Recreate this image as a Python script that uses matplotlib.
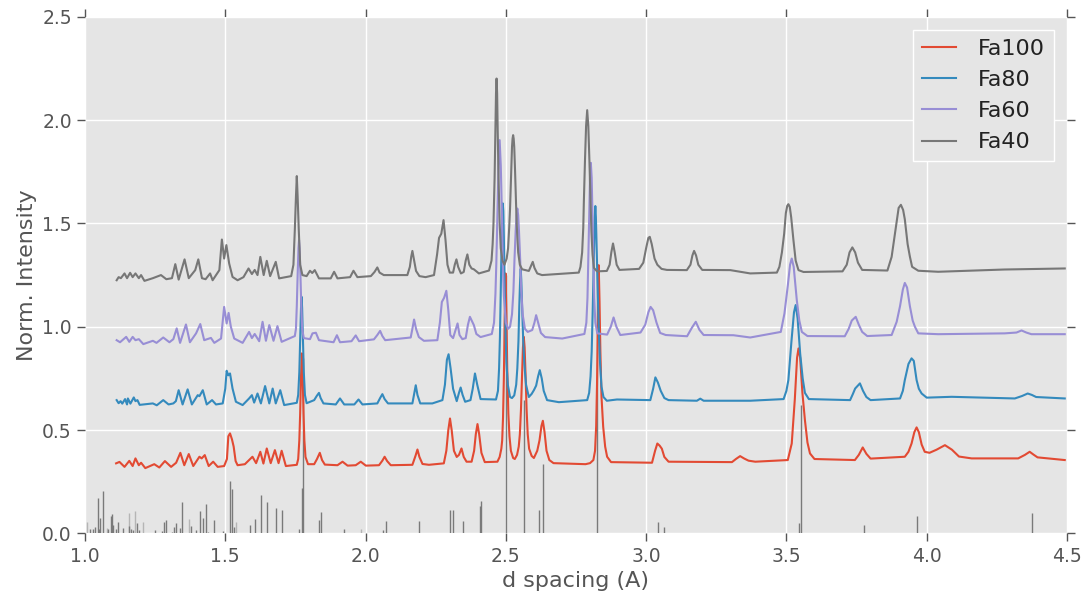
import matplotlib
matplotlib.use("Agg")
import matplotlib.pyplot as plt

# ---------------- data ----------------
series_names = ["Fa100", "Fa80", "Fa60", "Fa40"]
series_colors = ["#E24A33", "#348ABD", "#988ED5", "#777777"]

fa100_pts = [(1.111,0.339),(1.123,0.346),(1.141,0.322),(1.158,0.351),(1.170,0.326),(1.180,0.363),(1.192,0.330),(1.200,0.342),(1.215,0.316),(1.247,0.335),(1.265,0.319),(1.285,0.350),(1.307,0.322),(1.325,0.342),(1.340,0.390),(1.354,0.330),(1.370,0.384),(1.386,0.326),(1.408,0.371),(1.416,0.363),(1.427,0.379),(1.441,0.326),(1.457,0.347),(1.473,0.322),(1.496,0.326),(1.506,0.360),(1.511,0.470),(1.517,0.484),(1.524,0.455),(1.530,0.420),(1.537,0.350),(1.544,0.330),(1.570,0.335),(1.597,0.371),(1.610,0.340),(1.625,0.395),(1.636,0.338),(1.648,0.411),(1.662,0.340),(1.677,0.403),(1.690,0.340),(1.701,0.400),(1.716,0.326),(1.755,0.332),(1.760,0.360),(1.764,0.450),(1.767,0.580),(1.770,0.760),(1.773,0.871),(1.776,0.760),(1.779,0.580),(1.782,0.450),(1.786,0.370),(1.795,0.335),(1.817,0.335),(1.827,0.360),(1.837,0.390),(1.845,0.355),(1.855,0.333),(1.900,0.330),(1.918,0.347),(1.936,0.328),(1.965,0.330),(1.983,0.347),(2.001,0.328),(2.048,0.330),(2.060,0.352),(2.068,0.371),(2.077,0.350),(2.090,0.330),(2.167,0.332),(2.178,0.375),(2.185,0.406),(2.192,0.370),(2.203,0.336),(2.226,0.332),(2.279,0.339),(2.288,0.400),(2.295,0.500),(2.301,0.556),(2.307,0.500),(2.315,0.400),(2.325,0.370),(2.333,0.380),(2.342,0.411),(2.350,0.370),(2.360,0.347),(2.378,0.347),(2.387,0.400),(2.393,0.480),(2.399,0.529),(2.405,0.480),(2.413,0.390),(2.425,0.345),(2.470,0.347),(2.478,0.370),(2.484,0.410),(2.487,0.450),(2.490,0.560),(2.493,0.750),(2.496,1.050),(2.499,1.258),(2.502,1.070),(2.505,0.800),(2.509,0.580),(2.513,0.470),(2.518,0.400),(2.526,0.365),(2.532,0.360),(2.540,0.380),(2.546,0.420),(2.550,0.480),(2.554,0.600),(2.558,0.780),(2.561,0.900),(2.564,0.951),(2.567,0.900),(2.570,0.780),(2.574,0.600),(2.578,0.480),(2.583,0.410),(2.592,0.375),(2.600,0.365),(2.612,0.400),(2.620,0.450),(2.627,0.520),(2.632,0.545),(2.638,0.490),(2.645,0.400),(2.655,0.355),(2.670,0.340),(2.784,0.335),(2.800,0.340),(2.812,0.355),(2.818,0.400),(2.822,0.520),(2.825,0.720),(2.828,1.020),(2.831,1.298),(2.834,1.120),(2.837,0.880),(2.841,0.660),(2.847,0.516),(2.854,0.420),(2.861,0.371),(2.875,0.345),(3.021,0.342),(3.032,0.400),(3.040,0.435),(3.048,0.425),(3.056,0.410),(3.065,0.370),(3.080,0.347),(3.306,0.345),(3.320,0.360),(3.335,0.374),(3.350,0.362),(3.365,0.352),(3.389,0.347),(3.505,0.355),(3.519,0.435),(3.530,0.650),(3.538,0.850),(3.543,0.895),(3.549,0.850),(3.557,0.680),(3.566,0.548),(3.575,0.440),(3.584,0.387),(3.600,0.360),(3.744,0.355),(3.758,0.380),(3.772,0.416),(3.785,0.385),(3.800,0.362),(3.922,0.371),(3.935,0.395),(3.946,0.435),(3.956,0.490),(3.964,0.513),(3.972,0.490),(3.982,0.430),(3.993,0.395),(4.010,0.390),(4.035,0.405),(4.065,0.427),(4.090,0.405),(4.115,0.372),(4.160,0.363),(4.326,0.363),(4.350,0.380),(4.367,0.395),(4.380,0.382),(4.395,0.368),(4.492,0.355)]

fa80_pts = [(1.113,0.645),(1.120,0.630),(1.127,0.640),(1.133,0.628),(1.143,0.650),(1.150,0.624),(1.153,0.653),(1.162,0.628),(1.174,0.658),(1.180,0.640),(1.187,0.645),(1.195,0.622),(1.242,0.629),(1.256,0.620),(1.279,0.645),(1.298,0.624),(1.315,0.629),(1.324,0.640),(1.334,0.693),(1.348,0.624),(1.366,0.697),(1.381,0.624),(1.402,0.669),(1.408,0.664),(1.420,0.693),(1.434,0.624),(1.453,0.645),(1.467,0.624),(1.491,0.629),(1.500,0.700),(1.505,0.787),(1.511,0.765),(1.517,0.774),(1.526,0.701),(1.538,0.637),(1.562,0.621),(1.585,0.653),(1.595,0.669),(1.603,0.633),(1.615,0.677),(1.627,0.629),(1.642,0.713),(1.657,0.629),(1.669,0.701),(1.680,0.629),(1.696,0.693),(1.710,0.621),(1.755,0.632),(1.760,0.670),(1.764,0.780),(1.767,0.930),(1.770,1.090),(1.772,1.145),(1.774,1.090),(1.777,0.930),(1.780,0.780),(1.784,0.670),(1.790,0.630),(1.817,0.645),(1.826,0.665),(1.834,0.680),(1.840,0.655),(1.850,0.629),(1.894,0.624),(1.909,0.653),(1.924,0.624),(1.960,0.624),(1.975,0.648),(1.989,0.624),(2.042,0.629),(2.052,0.655),(2.060,0.674),(2.068,0.650),(2.080,0.629),(2.167,0.629),(2.174,0.680),(2.179,0.717),(2.185,0.670),(2.195,0.629),(2.238,0.629),(2.274,0.645),(2.283,0.720),(2.290,0.840),(2.296,0.867),(2.303,0.800),(2.312,0.700),(2.325,0.640),(2.333,0.680),(2.339,0.706),(2.346,0.670),(2.355,0.637),(2.374,0.645),(2.382,0.700),(2.390,0.774),(2.398,0.720),(2.410,0.650),(2.465,0.648),(2.472,0.690),(2.476,0.800),(2.479,0.950),(2.482,1.180),(2.485,1.430),(2.487,1.560),(2.489,1.597),(2.491,1.560),(2.493,1.430),(2.496,1.180),(2.499,0.970),(2.502,0.830),(2.507,0.720),(2.515,0.660),(2.522,0.655),(2.530,0.668),(2.537,0.720),(2.541,0.800),(2.545,0.930),(2.548,1.100),(2.551,1.230),(2.553,1.280),(2.555,1.230),(2.558,1.100),(2.562,0.930),(2.566,0.820),(2.572,0.720),(2.582,0.660),(2.592,0.675),(2.600,0.693),(2.608,0.715),(2.615,0.760),(2.621,0.790),(2.628,0.750),(2.635,0.690),(2.647,0.645),(2.689,0.635),(2.790,0.645),(2.797,0.680),(2.802,0.760),(2.806,0.880),(2.810,1.100),(2.814,1.360),(2.817,1.530),(2.819,1.584),(2.821,1.530),(2.824,1.360),(2.828,1.150),(2.832,0.960),(2.836,0.820),(2.841,0.710),(2.848,0.660),(2.860,0.642),(2.896,0.648),(3.015,0.645),(3.025,0.700),(3.033,0.755),(3.042,0.730),(3.052,0.690),(3.065,0.655),(3.080,0.645),(3.181,0.642),(3.193,0.652),(3.205,0.642),(3.371,0.642),(3.490,0.650),(3.500,0.690),(3.507,0.742),(3.518,0.930),(3.527,1.070),(3.533,1.105),(3.540,1.040),(3.549,0.871),(3.558,0.750),(3.566,0.680),(3.580,0.650),(3.727,0.645),(3.737,0.675),(3.745,0.701),(3.762,0.726),(3.773,0.690),(3.785,0.660),(3.800,0.645),(3.905,0.653),(3.915,0.690),(3.922,0.742),(3.935,0.820),(3.946,0.847),(3.954,0.835),(3.964,0.742),(3.972,0.700),(3.982,0.677),(4.000,0.657),(4.089,0.661),(4.314,0.653),(4.340,0.665),(4.360,0.677),(4.375,0.670),(4.390,0.660),(4.492,0.653)]

fa60_pts = [(1.113,0.935),(1.125,0.925),(1.147,0.951),(1.158,0.927),(1.170,0.951),(1.180,0.935),(1.192,0.940),(1.208,0.916),(1.242,0.932),(1.255,0.922),(1.279,0.948),(1.301,0.925),(1.315,0.940),(1.327,0.992),(1.339,0.922),(1.360,1.011),(1.374,0.925),(1.396,0.968),(1.411,1.013),(1.425,0.935),(1.449,0.946),(1.461,0.922),(1.485,0.943),(1.496,1.096),(1.505,1.016),(1.512,1.067),(1.520,1.000),(1.532,0.943),(1.562,0.922),(1.585,0.975),(1.595,0.945),(1.605,0.965),(1.621,0.930),(1.633,1.024),(1.645,0.932),(1.657,1.008),(1.672,0.932),(1.686,1.003),(1.701,0.927),(1.748,0.955),(1.752,0.990),(1.755,1.100),(1.758,1.250),(1.761,1.380),(1.763,1.419),(1.765,1.380),(1.768,1.250),(1.771,1.100),(1.774,0.990),(1.780,0.945),(1.802,0.940),(1.811,0.968),(1.823,0.971),(1.834,0.935),(1.886,0.925),(1.898,0.959),(1.909,0.925),(1.950,0.930),(1.965,0.958),(1.977,0.930),(2.030,0.939),(2.042,0.960),(2.052,0.980),(2.060,0.955),(2.070,0.935),(2.161,0.948),(2.167,0.990),(2.173,1.035),(2.180,0.990),(2.190,0.950),(2.208,0.932),(2.256,0.935),(2.265,1.020),(2.272,1.120),(2.280,1.140),(2.288,1.174),(2.295,1.080),(2.302,0.960),(2.312,0.945),(2.322,0.990),(2.328,1.016),(2.335,0.960),(2.345,0.940),(2.357,0.945),(2.365,1.010),(2.372,1.048),(2.380,1.025),(2.386,1.008),(2.395,0.965),(2.410,0.950),(2.450,0.965),(2.458,1.020),(2.463,1.160),(2.466,1.300),(2.470,1.550),(2.474,1.780),(2.478,1.903),(2.482,1.780),(2.486,1.550),(2.489,1.320),(2.493,1.150),(2.500,1.020),(2.508,0.990),(2.515,1.000),(2.522,1.060),(2.527,1.170),(2.531,1.330),(2.535,1.460),(2.538,1.540),(2.541,1.572),(2.544,1.540),(2.547,1.460),(2.551,1.330),(2.555,1.170),(2.560,1.060),(2.568,0.990),(2.578,0.975),(2.594,0.984),(2.602,1.020),(2.608,1.056),(2.615,1.020),(2.625,0.970),(2.640,0.950),(2.701,0.943),(2.780,0.965),(2.787,1.020),(2.791,1.140),(2.794,1.330),(2.797,1.530),(2.800,1.720),(2.803,1.793),(2.806,1.720),(2.809,1.530),(2.812,1.330),(2.815,1.140),(2.819,1.020),(2.826,0.968),(2.861,0.962),(2.874,1.000),(2.884,1.045),(2.894,1.000),(2.908,0.960),(2.980,0.972),(2.997,1.010),(3.008,1.070),(3.016,1.096),(3.025,1.080),(3.037,1.020),(3.050,0.970),(3.070,0.960),(3.146,0.954),(3.163,0.995),(3.177,1.024),(3.190,0.985),(3.205,0.960),(3.311,0.959),(3.371,0.948),(3.480,0.975),(3.493,1.064),(3.505,1.200),(3.513,1.300),(3.519,1.330),(3.526,1.290),(3.537,1.129),(3.546,1.030),(3.555,0.975),(3.575,0.955),(3.708,0.954),(3.722,0.990),(3.733,1.030),(3.747,1.048),(3.758,1.010),(3.770,0.975),(3.788,0.955),(3.875,0.960),(3.893,1.024),(3.905,1.100),(3.915,1.180),(3.922,1.212),(3.930,1.190),(3.940,1.100),(3.950,1.030),(3.958,1.000),(3.970,0.968),(4.041,0.964),(4.278,0.968),(4.320,0.972),(4.338,0.982),(4.355,0.972),(4.373,0.964),(4.492,0.964)]

fa40_pts = [(1.113,1.225),(1.120,1.240),(1.128,1.235),(1.141,1.258),(1.150,1.235),(1.161,1.261),(1.170,1.240),(1.180,1.258),(1.192,1.235),(1.200,1.250),(1.212,1.222),(1.242,1.235),(1.271,1.250),(1.290,1.230),(1.310,1.235),(1.322,1.303),(1.334,1.228),(1.355,1.326),(1.370,1.235),(1.393,1.274),(1.404,1.326),(1.417,1.235),(1.430,1.230),(1.446,1.258),(1.455,1.225),(1.479,1.274),(1.488,1.422),(1.496,1.330),(1.504,1.395),(1.514,1.306),(1.526,1.241),(1.544,1.225),(1.565,1.240),(1.583,1.282),(1.595,1.255),(1.605,1.275),(1.615,1.250),(1.625,1.338),(1.637,1.250),(1.648,1.319),(1.660,1.245),(1.680,1.314),(1.692,1.234),(1.735,1.245),(1.743,1.300),(1.748,1.470),(1.752,1.630),(1.755,1.729),(1.758,1.630),(1.762,1.470),(1.767,1.300),(1.775,1.250),(1.790,1.245),(1.802,1.271),(1.810,1.260),(1.819,1.274),(1.834,1.234),(1.876,1.234),(1.888,1.266),(1.900,1.234),(1.945,1.240),(1.957,1.271),(1.971,1.240),(2.019,1.245),(2.032,1.265),(2.042,1.287),(2.050,1.262),(2.065,1.250),(2.149,1.250),(2.158,1.290),(2.163,1.340),(2.167,1.367),(2.172,1.330),(2.180,1.270),(2.192,1.245),(2.214,1.240),(2.244,1.250),(2.255,1.350),(2.262,1.430),(2.270,1.450),(2.278,1.516),(2.285,1.420),(2.292,1.300),(2.300,1.262),(2.312,1.262),(2.318,1.300),(2.324,1.326),(2.330,1.290),(2.340,1.258),(2.350,1.265),(2.357,1.320),(2.363,1.350),(2.370,1.300),(2.378,1.282),(2.386,1.278),(2.404,1.258),(2.440,1.272),(2.449,1.320),(2.453,1.400),(2.456,1.500),(2.460,1.720),(2.463,1.950),(2.465,2.130),(2.467,2.201),(2.469,2.130),(2.471,1.950),(2.474,1.720),(2.478,1.500),(2.482,1.380),(2.488,1.320),(2.495,1.300),(2.503,1.330),(2.508,1.380),(2.512,1.480),(2.515,1.570),(2.519,1.750),(2.522,1.870),(2.524,1.910),(2.526,1.927),(2.528,1.910),(2.530,1.870),(2.533,1.750),(2.537,1.570),(2.540,1.460),(2.544,1.360),(2.550,1.300),(2.558,1.278),(2.582,1.270),(2.590,1.295),(2.596,1.314),(2.602,1.285),(2.612,1.258),(2.629,1.250),(2.760,1.262),(2.766,1.290),(2.772,1.360),(2.776,1.480),(2.778,1.600),(2.782,1.800),(2.786,1.970),(2.790,2.048),(2.794,1.970),(2.798,1.800),(2.802,1.600),(2.805,1.460),(2.809,1.350),(2.814,1.285),(2.825,1.268),(2.860,1.270),(2.870,1.300),(2.876,1.360),(2.882,1.403),(2.888,1.360),(2.895,1.300),(2.905,1.275),(2.975,1.280),(2.990,1.310),(3.000,1.380),(3.008,1.430),(3.013,1.435),(3.020,1.400),(3.030,1.330),(3.040,1.300),(3.055,1.280),(3.074,1.275),(3.145,1.274),(3.158,1.300),(3.165,1.345),(3.171,1.367),(3.178,1.345),(3.186,1.300),(3.200,1.275),(3.300,1.274),(3.371,1.258),(3.466,1.262),(3.475,1.290),(3.484,1.360),(3.492,1.450),(3.498,1.550),(3.503,1.585),(3.507,1.593),(3.512,1.580),(3.517,1.530),(3.525,1.420),(3.533,1.320),(3.543,1.274),(3.561,1.265),(3.700,1.268),(3.715,1.300),(3.725,1.360),(3.735,1.384),(3.745,1.360),(3.755,1.310),(3.770,1.275),(3.860,1.272),(3.875,1.338),(3.890,1.480),(3.900,1.575),(3.908,1.590),(3.916,1.565),(3.922,1.520),(3.932,1.400),(3.940,1.340),(3.948,1.290),(3.970,1.271),(4.041,1.266),(4.278,1.277),(4.492,1.282)]

# reference stick pattern (d spacing, relative height)
stick_d = [1.018,1.030,1.036,1.045,1.049,1.055,1.064,1.081,1.094,1.097,1.099,1.109,1.119,1.135,1.158,1.164,1.170,1.186,1.194,1.250,1.275,1.283,1.290,1.310,1.318,1.326,1.338,1.345,1.379,1.396,1.411,1.422,1.431,1.439,1.461,1.491,1.518,1.525,1.532,1.589,1.607,1.629,1.649,1.681,1.703,1.763,1.773,1.776,1.834,1.842,1.924,2.063,2.073,2.190,2.301,2.311,2.347,2.407,2.411,2.499,2.564,2.617,2.632,2.826,3.041,3.063,3.546,3.552,3.778,3.966,4.375]
stick_h = [0.019,0.019,0.029,0.169,0.019,0.077,0.206,0.019,0.084,0.095,0.040,0.019,0.056,0.024,0.035,0.019,0.016,0.048,0.016,0.016,0.013,0.056,0.065,0.008,0.029,0.048,0.024,0.153,0.035,0.016,0.110,0.077,0.142,0.008,0.065,0.013,0.253,0.213,0.029,0.040,0.068,0.185,0.152,0.123,0.113,0.019,0.218,0.850,0.065,0.103,0.021,0.016,0.060,0.060,0.113,0.113,0.060,0.132,0.156,1.250,0.645,0.113,0.335,1.270,0.056,0.029,0.048,0.620,0.040,0.084,0.100]
light_stick_d = [1.008,1.078,1.156,1.179,1.208,1.372,1.538,1.985]
light_stick_h = [0.056,0.024,0.097,0.108,0.056,0.068,0.056,0.019]

x_ticks = [1.0, 1.5, 2.0, 2.5, 3.0, 3.5, 4.0, 4.5]
y_ticks = [0.0, 0.5, 1.0, 1.5, 2.0, 2.5]

# ---------------- figure ----------------
fig = plt.figure(figsize=(10.85, 5.98), dpi=100)
ax = fig.add_axes([0.0783, 0.108, 0.9051, 0.864])
ax.set_facecolor('#E5E5E5')
for s in ax.spines.values():
    s.set_visible(False)
ax.grid(True, color='white', linewidth=1.0, linestyle='-')
ax.set_axisbelow(True)

ax.vlines(light_stick_d, 0, light_stick_h, color='#B5B5B5', linewidth=1.0, zorder=1.5)
ax.vlines(stick_d, 0, stick_h, color='#7A7A7A', linewidth=1.0, zorder=1.6)

for name, color, pts in zip(series_names, series_colors,
                            [fa100_pts, fa80_pts, fa60_pts, fa40_pts]):
    xs = [p[0] for p in pts]
    ys = [p[1] for p in pts]
    ax.plot(xs, ys, color=color, linewidth=1.5, label=name, zorder=2,
            solid_joinstyle='round')

ax.set_xlim(1.0, 4.5)
ax.set_ylim(0.0, 2.5)
ax.set_xticks(x_ticks)
ax.set_yticks(y_ticks)
ax.set_xticklabels([f"{v:.1f}" for v in x_ticks])
ax.set_yticklabels([f"{v:.1f}" for v in y_ticks])
ax.tick_params(axis='both', which='major', direction='out', length=5.5, width=1,
               color='#555555', labelcolor='#555555', labelsize=13.5,
               top=True, right=True, pad=4)

ax.set_xlabel('d spacing (A)', fontsize=16, color='#555555')
ax.set_ylabel('Norm. Intensity', fontsize=16, color='#555555')

leg = ax.legend(loc='upper right', fontsize=16, facecolor='#E5E5E5',
                edgecolor='white', fancybox=False, framealpha=1,
                handlelength=1.5, handletextpad=1.0, borderaxespad=0.6)
for t in leg.get_texts():
    t.set_color('#222222')

fig.savefig('out.png', dpi=100)
